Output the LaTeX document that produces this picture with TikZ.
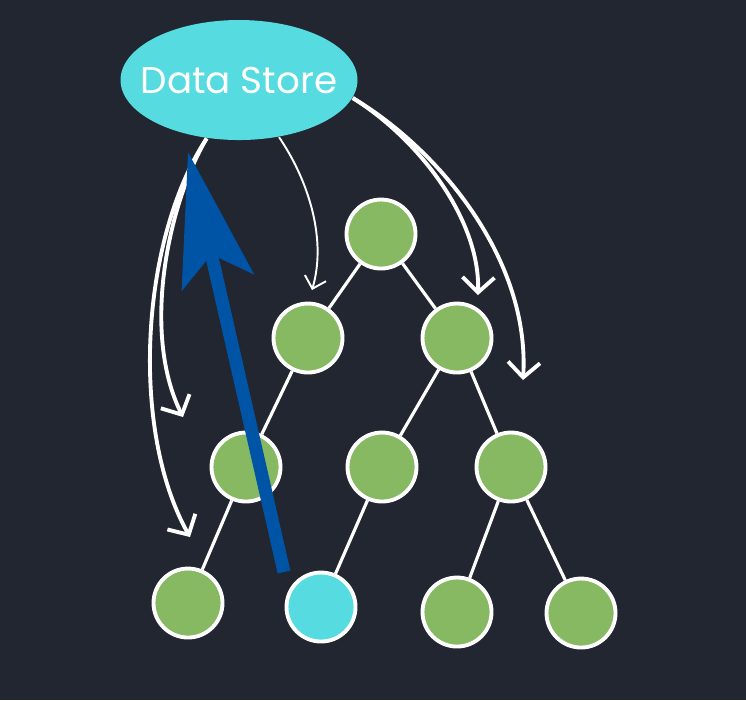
\documentclass[tikz,border=0pt]{standalone}
\usepackage{fontspec}
\setmainfont{Poppins}
\usepackage{tikz}
\usetikzlibrary{shapes.geometric,arrows.meta}
\definecolor{bg}{RGB}{34,38,48}
\definecolor{leaf}{RGB}{134,185,98}
\definecolor{store}{RGB}{86,219,224}
\definecolor{push}{RGB}{0,84,166}

\begin{document}
\begin{tikzpicture}[x=1cm,y=-1cm,
    tnode/.style={circle, draw=white, line width=1.1pt, fill=leaf, minimum size=0.69cm, inner sep=0pt},
    edge/.style={white, line width=0.9pt},
    feed/.style={white, line width=1.1pt, -{Straight Barb[length=1.5mm,width=3.2mm]}},
    feedthin/.style={white, line width=0.55pt, -{Straight Barb[length=1.1mm,width=2.2mm]}}]
            % Background
            \fill[bg] (0,0) rectangle (7.46,7.00);
            \useasboundingbox (0,0) rectangle (7.46,7.00);
            % Data store
            \node[ellipse, fill=store, minimum width=2.37cm, minimum height=1.2cm, inner sep=0pt] (store) at (2.39,0.80) {};
            \node[text=white, font=\fontsize{10.6}{12}\selectfont] (storelabel) at (store.center) {Data Store};
            % Tree
            \node[tnode] (root) at (3.81,2.34) {};
            \node[tnode] (a) at (3.08,3.38) {};
            \node[tnode] (b) at (4.57,3.38) {};
            \node[tnode] (c) at (2.46,4.67) {};
            \node[tnode] (d) at (3.82,4.67) {};
            \node[tnode] (e) at (5.11,4.67) {};
            \node[tnode] (f) at (1.88,6.03) {};
            \node[tnode, fill=store] (g) at (3.21,6.07) {};
            \node[tnode] (h) at (4.57,6.12) {};
            \node[tnode] (i) at (5.81,6.13) {};
            \foreach \p/\q in {root/a, root/b, a/c, b/d, b/e, c/f, d/g, e/h, e/i}
                \draw[edge] (\p) -- (\q);
            % Arrows from the store
            \coordinate (tipa) at (3.12,2.90);
            \coordinate (tipb) at (1.83,4.17);
            \coordinate (tipc) at (1.90,5.37);
            \coordinate (tipd) at (4.78,2.95);
            \coordinate (tipe) at (5.23,3.80);
            \draw[feedthin] (store.-55) .. controls (3.05,1.75) and (3.28,2.35) .. (tipa);
            \draw[feed] (store.241) .. controls (1.70,2.00) and (1.40,3.30) .. (tipb);
            \draw[feed] (store.241) .. controls (1.40,2.40) and (1.30,4.30) .. (tipc);
            \draw[feed] (store.-9) .. controls (4.20,1.40) and (4.80,2.20) .. (tipd);
            \draw[feed] (store.-9) .. controls (4.40,1.50) and (5.30,2.60) .. (tipe);
            % Update pushed back
            \coordinate (src) at (2.84,5.72);
            \coordinate (dst) at (1.88,1.52);
            \draw[push, line width=0.13cm, -{Stealth[length=1.33cm, width=0.73cm, inset=0.28cm]}] (src) -- (dst);
\end{tikzpicture}
\end{document}
